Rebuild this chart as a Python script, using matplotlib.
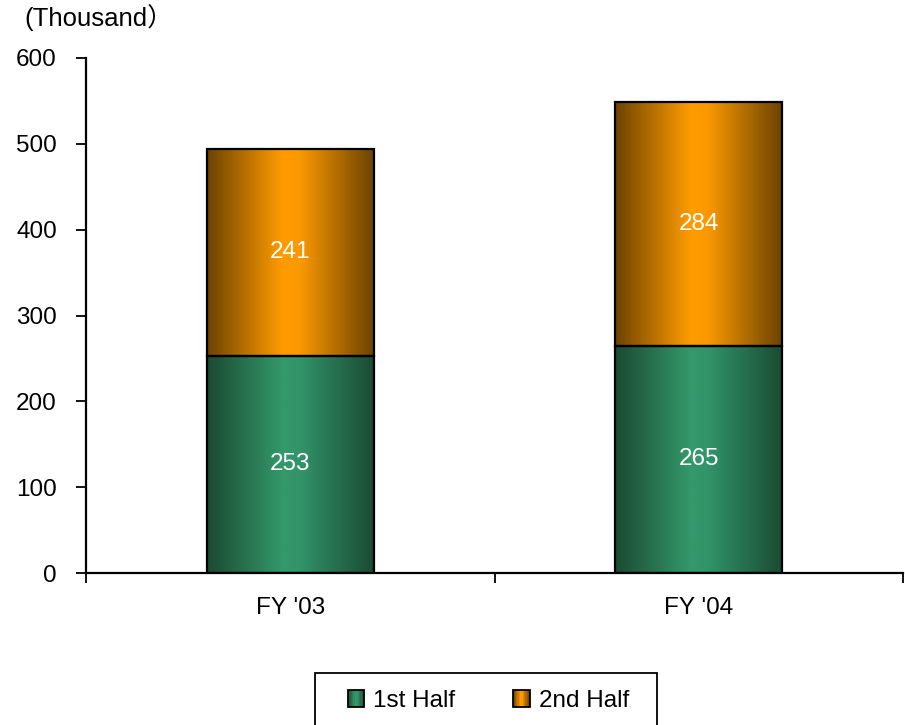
import numpy as np
import matplotlib
matplotlib.use("Agg")
import matplotlib.pyplot as plt
from matplotlib.colors import LinearSegmentedColormap
from matplotlib.patches import Rectangle
from matplotlib.legend_handler import HandlerBase

plt.rcParams['font.family'] = ['Liberation Sans', 'Noto Sans CJK JP', 'DejaVu Sans']

# Data
categories = ["FY '03", "FY '04"]
first_half = [253, 265]
second_half = [241, 284]
series_names = ["1st Half", "2nd Half"]
y_ticks = [0, 100, 200, 300, 400, 500, 600]

FS = 17.5

# Horizontal shading: dark edges, bright centre
green_cmap = LinearSegmentedColormap.from_list(
    "green_shade", [(0.0, "#1b4a33"), (0.45, "#34996a"), (0.55, "#32956a"), (1.0, "#1a4a32")])
orange_cmap = LinearSegmentedColormap.from_list(
    "orange_shade", [(0.0, "#6e4300"), (0.45, "#ff9c00"), (0.55, "#fc9900"), (1.0, "#6a4200")])

fig = plt.figure(figsize=(9.05, 7.25), dpi=100)
ax = fig.add_axes([86 / 905, 1 - 573 / 725, (903 - 86) / 905, (573 - 58) / 725])

x = np.arange(len(categories))
width = 0.41
grad = np.linspace(0, 1, 256).reshape(1, -1)


def shade_bars(bars, cmap):
    for b in bars:
        x0, y0 = b.get_x(), b.get_y()
        w, h = b.get_width(), b.get_height()
        im = ax.imshow(grad, cmap=cmap, aspect='auto', extent=(x0, x0 + w, y0, y0 + h),
                       zorder=2, interpolation='bilinear')
        im.set_clip_path(b)
        b.set_facecolor('none')
        b.set_zorder(3)


bars1 = ax.bar(x, first_half, width, edgecolor='black', linewidth=1.6)
bars2 = ax.bar(x, second_half, width, bottom=first_half, edgecolor='black', linewidth=1.6)
shade_bars(bars1, green_cmap)
shade_bars(bars2, orange_cmap)

for i in range(len(categories)):
    ax.text(x[i], first_half[i] / 2, str(first_half[i]), ha='center', va='center',
            color='white', fontsize=FS, zorder=4)
    ax.text(x[i], first_half[i] + second_half[i] / 2, str(second_half[i]), ha='center',
            va='center', color='white', fontsize=FS, zorder=4)

ax.set_xlim(-0.5, len(categories) - 0.5)
ax.set_ylim(0, 600)
ax.set_yticks(y_ticks)
ax.tick_params(axis='y', direction='out', length=7, width=1.3, labelsize=FS, pad=14)
ax.set_xticks([-0.5, 0.5, 1.5])
ax.set_xticklabels([])
ax.set_xticks(x, minor=True)
ax.set_xticklabels(categories, minor=True, fontsize=FS)
ax.tick_params(axis='x', which='major', direction='out', length=7, width=1.3)
ax.tick_params(axis='x', which='minor', length=0, pad=17)
for side in ['top', 'right']:
    ax.spines[side].set_visible(False)
for side in ['left', 'bottom']:
    ax.spines[side].set_linewidth(1.6)

fig.text(24 / 905, 1 - 18 / 725, "(Thousand）", fontsize=18.5, va='center', ha='left')


class ShadedBoxHandler(HandlerBase):
    def __init__(self, cmap):
        super().__init__()
        self.cmap = cmap

    def create_artists(self, legend, orig_handle, xdescent, ydescent, width, height,
                       fontsize, trans):
        side = min(width, height) * 0.95
        x0 = -xdescent + width - side
        y0 = -ydescent + (height - side) / 2
        arts = []
        n = 12
        for k in range(n):
            arts.append(Rectangle((x0 + k * side / n, y0), side / n + 0.1, side,
                                  facecolor=self.cmap((k + 0.5) / n), edgecolor='none',
                                  transform=trans))
        arts.append(Rectangle((x0, y0), side, side, facecolor='none', edgecolor='black',
                              linewidth=1.3, transform=trans))
        return arts


h1 = Rectangle((0, 0), 1, 1)
h2 = Rectangle((0, 0), 1, 1)
leg = fig.legend([h1, h2], series_names, loc='center',
                 bbox_to_anchor=(488 / 905, 1 - 701 / 725), ncol=2, fontsize=FS,
                 frameon=False, handlelength=0.7, handleheight=0.7,
                 handletextpad=0.37, columnspacing=2.35, borderpad=0.2,
                 handler_map={h1: ShadedBoxHandler(green_cmap), h2: ShadedBoxHandler(orange_cmap)})

# legend frame
fig.patches.append(Rectangle((315 / 905, -0.02), (657 - 315) / 905, (1 - 673 / 725) + 0.02,
                             transform=fig.transFigure, facecolor='none',
                             edgecolor='black', linewidth=1.3))

fig.savefig("out.png", dpi=100)
